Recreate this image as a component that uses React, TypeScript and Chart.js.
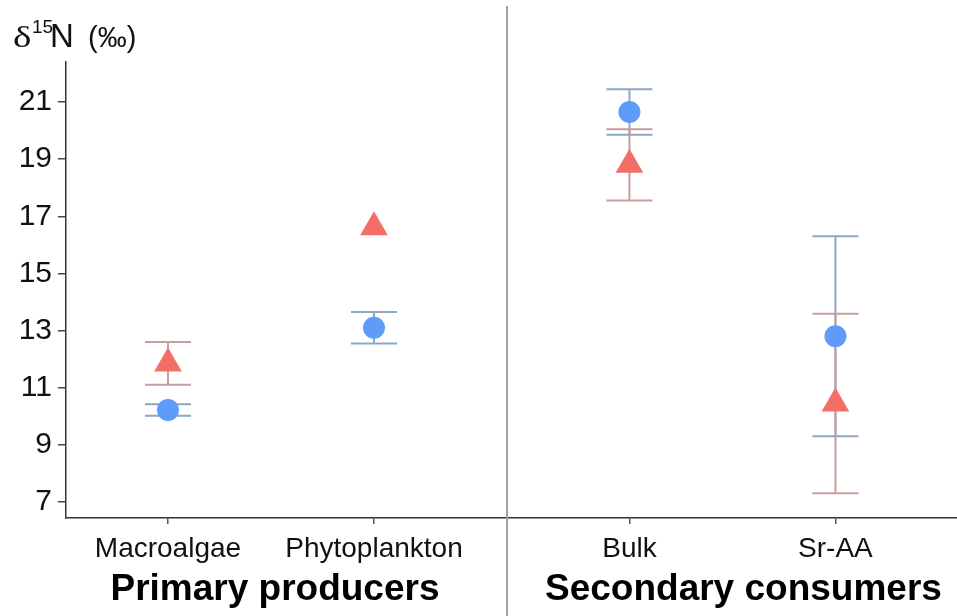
import React, { useEffect, useRef } from "react";
import { Chart, registerables } from "chart.js";

Chart.register(...registerables);

// ---- data ----
const categories = ["Macroalgae", "Phytoplankton", "Bulk", "Sr-AA"];
const categoryGroup = [0, 0, 1, 1];
const groupLabels = ["Primary producers", "Secondary consumers"];
const blueMean = [10.22, 13.1, 20.65, 12.8];
const blueErr = [0.2, 0.55, 0.8, 3.5];
const redMean = [11.85, 16.62, 18.8, 10.45];
const redErr = [0.75, 0, 1.25, 3.14];
const yTicks = [7, 9, 11, 13, 15, 17, 19, 21];

// ---- layout ----
const Y_MIN = 6.44;
const Y_MAX = 22.4;
const GROUP_GAP = 0.24;
const X_MIN = -0.495;
const X_MAX = 3.83;
const DIVIDER_X = 1.646;
const GROUP_LABEL_SHIFT = [4, 11];

const xPos = (i: number) => i + (categoryGroup[i] === 1 ? GROUP_GAP : 0);

const BLUE = "#5F9BF8";
const RED = "#F36E67";
const BLUE_ERR = "#8EA7C6";
const RED_ERR = "#C99C9E";
const AXIS = "#333333";
const SANS = '"Liberation Sans", Arial, sans-serif';

const errorBarPlugin = {
  id: "errorBars",
  beforeDatasetsDraw(chart: any) {
    const ctx = chart.ctx;
    const ys = chart.scales.y;
    const xs = chart.scales.x;
    chart.data.datasets.forEach((ds: any) => {
      const errs: number[] = ds.errors;
      ctx.save();
      ctx.strokeStyle = ds.errorColor;
      ctx.lineWidth = 2;
      ds.data.forEach((p: any, i: number) => {
        const e = errs[i];
        if (!e) return;
        const px = xs.getPixelForValue(p.x);
        const top = ys.getPixelForValue(p.y + e);
        const bot = ys.getPixelForValue(p.y - e);
        const hw = 23;
        ctx.beginPath();
        ctx.moveTo(px, top);
        ctx.lineTo(px, bot);
        ctx.moveTo(px - hw, top);
        ctx.lineTo(px + hw, top);
        ctx.moveTo(px - hw, bot);
        ctx.lineTo(px + hw, bot);
        ctx.stroke();
      });
      ctx.restore();
    });
  },
};

const decorPlugin = {
  id: "decor",
  afterDraw(chart: any) {
    const ctx = chart.ctx;
    const xs = chart.scales.x;
    ctx.save();
    // divider between facets
    const dx = xs.getPixelForValue(DIVIDER_X);
    ctx.strokeStyle = "#a0a0a0";
    ctx.lineWidth = 2;
    ctx.beginPath();
    ctx.moveTo(dx, 6);
    ctx.lineTo(dx, chart.height);
    ctx.stroke();

    // group labels
    ctx.fillStyle = "#000";
    ctx.font = `bold 37px ${SANS}`;
    ctx.textAlign = "center";
    ctx.textBaseline = "alphabetic";
    groupLabels.forEach((lab, g) => {
      const idx = categories.map((_, i) => i).filter((i) => categoryGroup[i] === g);
      const mid =
        idx.reduce((s, i) => s + xs.getPixelForValue(xPos(i)), 0) / idx.length;
      ctx.fillText(lab, mid + GROUP_LABEL_SHIFT[g], 600);
    });

    // y axis title: δ15N (‰)
    ctx.textAlign = "left";
    ctx.fillStyle = "#111";
    ctx.save();
    ctx.translate(13, 47);
    ctx.scale(1.3, 1);
    ctx.font = '30px "Liberation Serif", serif';
    ctx.fillText("δ", 0, 0);
    ctx.restore();
    ctx.font = `19px ${SANS}`;
    ctx.fillText("15", 32, 33);
    ctx.font = `33px ${SANS}`;
    ctx.fillText("N", 50, 47);
    ctx.font = `29px ${SANS}`;
    ctx.fillText("(‰)", 88, 47);
    ctx.restore();
  },
};

export default function App() {
  const ref = useRef<HTMLCanvasElement | null>(null);
  useEffect(() => {
    if (!ref.current) return;
    const chart = new Chart(ref.current, {
      type: "scatter",
      data: {
        datasets: [
          {
            label: "blue",
            data: blueMean.map((v, i) => ({ x: xPos(i), y: v })),
            pointStyle: "circle",
            pointRadius: 11,
            pointHoverRadius: 11,
            backgroundColor: BLUE,
            borderColor: BLUE,
            borderWidth: 0,
            errors: blueErr,
            errorColor: BLUE_ERR,
          } as any,
          {
            label: "red",
            data: redMean.map((v, i) => ({ x: xPos(i), y: v })),
            pointStyle: "triangle",
            pointRadius: 16,
            pointHoverRadius: 16,
            backgroundColor: RED,
            borderColor: RED,
            borderWidth: 0,
            errors: redErr,
            errorColor: RED_ERR,
          } as any,
        ],
      },
      options: {
        animation: false,
        responsive: true,
        maintainAspectRatio: false,
        events: [],
        layout: {
          autoPadding: false,
          padding: { top: 62, left: 0, right: 0, bottom: 0 },
        },
        plugins: { legend: { display: false }, tooltip: { enabled: false } },
        scales: {
          x: {
            type: "linear",
            min: X_MIN,
            max: X_MAX,
            afterBuildTicks: (scale: any) => {
              scale.ticks = categories.map((_, i) => ({ value: xPos(i) }));
            },
            afterFit: (scale: any) => {
              scale.height = 98;
              scale.paddingLeft = 0;
              scale.paddingRight = 0;
            },
            ticks: {
              autoSkip: false,
              maxRotation: 0,
              padding: 8,
              color: "#111",
              font: { family: SANS, size: 28 },
              callback: (_v: any, i: number) => categories[i],
            },
            grid: {
              drawOnChartArea: false,
              drawTicks: true,
              tickLength: 6,
              color: "#555",
              lineWidth: 1.5,
            },
            border: { display: true, color: AXIS, width: 1.5 },
          },
          y: {
            type: "linear",
            min: Y_MIN,
            max: Y_MAX,
            afterBuildTicks: (scale: any) => {
              scale.ticks = yTicks.map((v) => ({ value: v }));
            },
            afterFit: (scale: any) => {
              scale.width = 66;
              scale.paddingTop = 0;
              scale.paddingBottom = 0;
            },
            ticks: {
              padding: 6,
              color: "#111",
              font: { family: SANS, size: 30 },
              callback: (v: any) => String(v),
            },
            grid: {
              drawOnChartArea: false,
              drawTicks: true,
              tickLength: 8,
              color: "#444",
              lineWidth: 1.5,
            },
            border: { display: true, color: AXIS, width: 1.5 },
          },
        },
      } as any,
      plugins: [errorBarPlugin, decorPlugin],
    });
    return () => chart.destroy();
  }, []);

  return (
    <div
      style={{
        position: "absolute",
        left: 0,
        top: 0,
        width: 957,
        height: 616,
        background: "#fff",
      }}
    >
      <canvas ref={ref} />
    </div>
  );
}
